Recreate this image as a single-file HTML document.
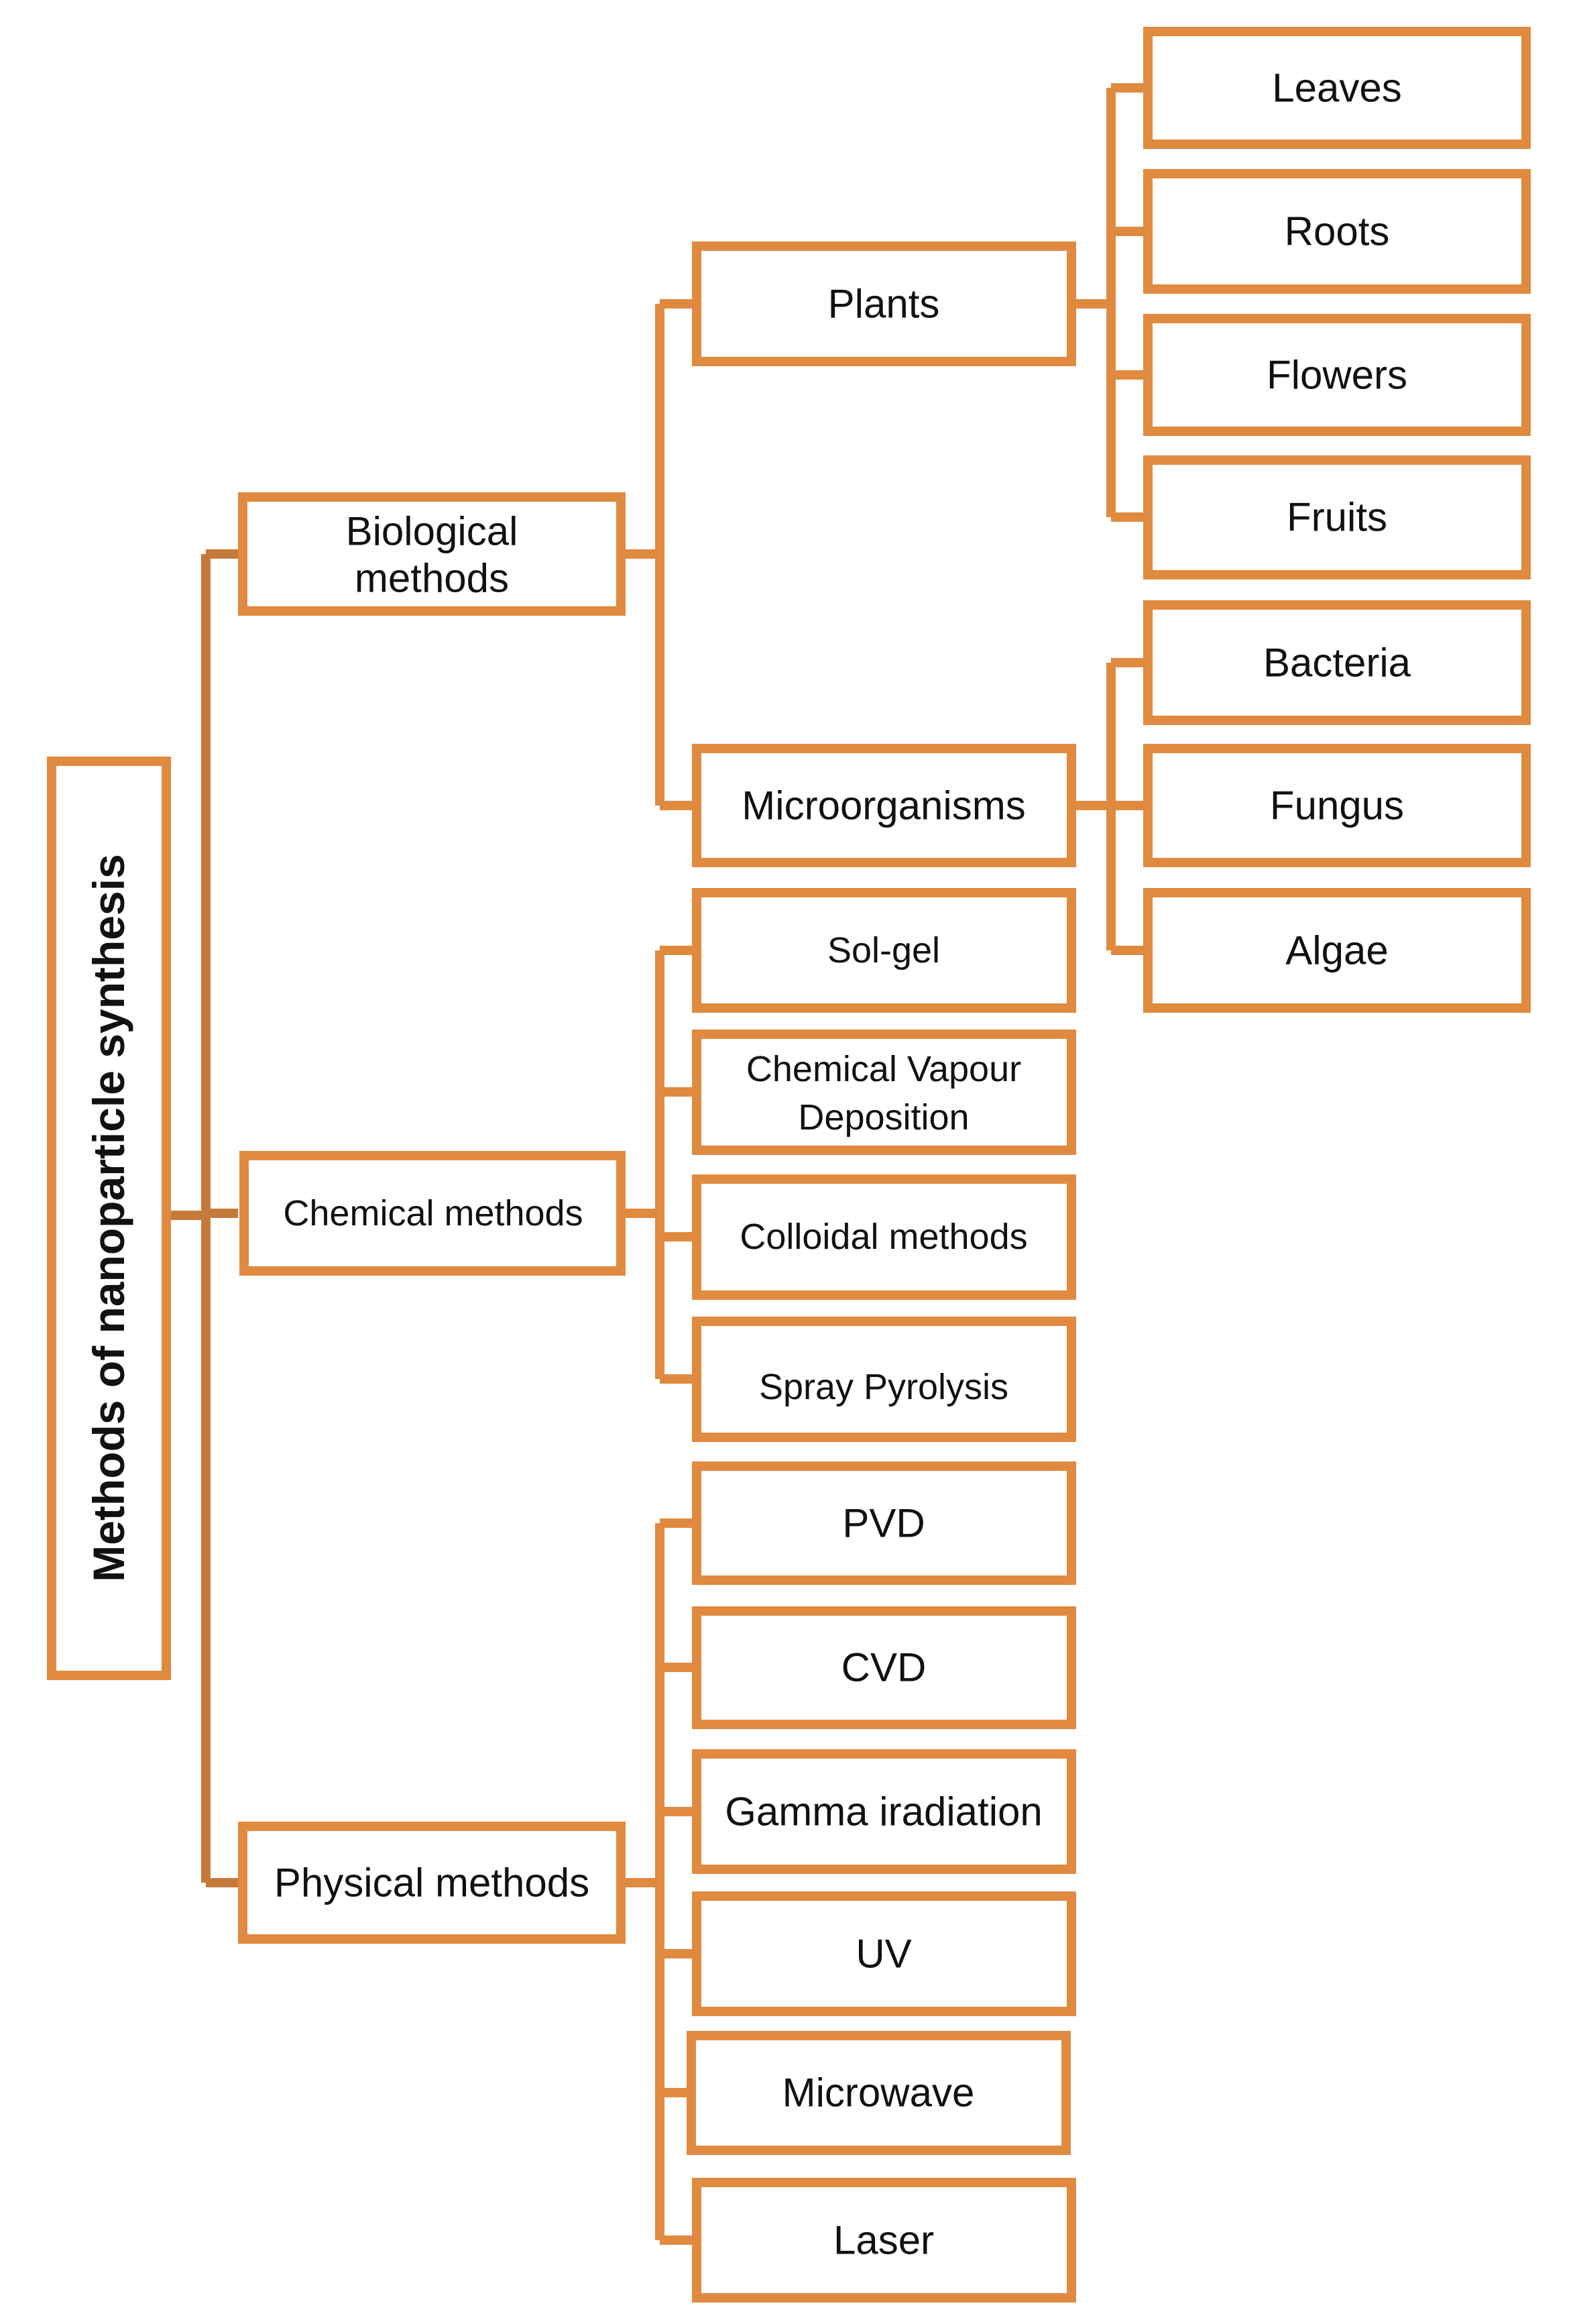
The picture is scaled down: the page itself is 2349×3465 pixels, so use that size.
<!DOCTYPE html>
<html><head><meta charset="utf-8"><style>
html,body{margin:0;padding:0;background:#fff}
svg{display:block}
text{font-family:"Liberation Sans",Arial,sans-serif;fill:#111;text-anchor:middle;dominant-baseline:central}
.c{font-size:54px}
</style></head><body>
<svg width="2349" height="3465" viewBox="0 0 2349 3465" xmlns="http://www.w3.org/2000/svg">
<g stroke="#E08A40" stroke-width="14" fill="none" stroke-linejoin="round">
<path d="M307 826 V2807 M307 826 H355 M307 1809 H355 M307 2807 H355 M255 1812 H307" stroke="#C67A3A"/>
<path d="M933 826 H984 M984 453 V1201 M984 453 H1032 M984 1201 H1032"/>
<path d="M1605 453 H1657 M1657 131 V771 M1657 131 H1705 M1657 345 H1705 M1657 559 H1705 M1657 771 H1705"/>
<path d="M1605 1201 H1657 M1657 988 V1417 M1657 988 H1705 M1657 1201 H1705 M1657 1417 H1705"/>
<path d="M933 1809 H984 M984 1417 V2056 M984 1417 H1032 M984 1628 H1032 M984 1844 H1032 M984 2056 H1032"/>
<path d="M933 2807 H984 M984 2271 V3340 M984 2271 H1032 M984 2486 H1032 M984 2701 H1032 M984 2913 H1032 M984 3120 H1024 M984 3340 H1032"/>
</g>
<g stroke="#E08A40" stroke-width="14" fill="#fff">
<rect x="77" y="1135" width="171" height="1363"/>
<rect x="362" y="741" width="564" height="170"/>
<rect x="364" y="1723" width="562" height="172"/>
<rect x="362" y="2723" width="564" height="168"/>
<rect x="1039" y="367" width="559" height="172"/>
<rect x="1039" y="1116" width="559" height="170"/>
<rect x="1039" y="1331" width="559" height="172"/>
<rect x="1039" y="1542" width="559" height="173"/>
<rect x="1039" y="1758" width="559" height="173"/>
<rect x="1039" y="1970" width="559" height="173"/>
<rect x="1039" y="2186" width="559" height="170"/>
<rect x="1039" y="2402" width="559" height="169"/>
<rect x="1039" y="2615" width="559" height="172"/>
<rect x="1039" y="2827" width="559" height="172"/>
<rect x="1031" y="3035" width="559" height="171"/>
<rect x="1039" y="3254" width="559" height="172"/>
<rect x="1712" y="47" width="564" height="168"/>
<rect x="1712" y="259" width="564" height="172"/>
<rect x="1712" y="475" width="564" height="168"/>
<rect x="1712" y="686" width="564" height="171"/>
<rect x="1712" y="902" width="564" height="172"/>
<rect x="1712" y="1116" width="564" height="170"/>
<rect x="1712" y="1331" width="564" height="172"/>
</g>
<text x="162" y="1816" transform="rotate(-90 162 1816)" style="font-size:66px;font-weight:bold">Methods of nanoparticle synthesis</text>
<g style="font-size:60px">
<text x="644" y="792">Biological</text>
<text x="644" y="862">methods</text>
<text x="644" y="2807">Physical methods</text>
<text x="1318" y="453">Plants</text>
<text x="1318" y="1201">Microorganisms</text>
<text x="1318" y="2271">PVD</text>
<text x="1318" y="2486">CVD</text>
<text x="1318" y="2701">Gamma  iradiation</text>
<text x="1318" y="2913">UV</text>
<text x="1310" y="3120">Microwave</text>
<text x="1318" y="3340">Laser</text>
<text x="1994" y="131">Leaves</text>
<text x="1994" y="345">Roots</text>
<text x="1994" y="559">Flowers</text>
<text x="1994" y="771">Fruits</text>
<text x="1994" y="988">Bacteria</text>
<text x="1994" y="1201">Fungus</text>
<text x="1994" y="1417">Algae</text>
</g>
<g class="c">
<text x="646" y="1809">Chemical methods</text>
<text x="1318" y="1417">Sol-gel</text>
<text x="1318" y="1594">Chemical Vapour</text>
<text x="1318" y="1666">Deposition</text>
<text x="1318" y="1844">Colloidal methods</text>
<text x="1318" y="2068">Spray Pyrolysis</text>
</g>
</svg>
</body></html>
